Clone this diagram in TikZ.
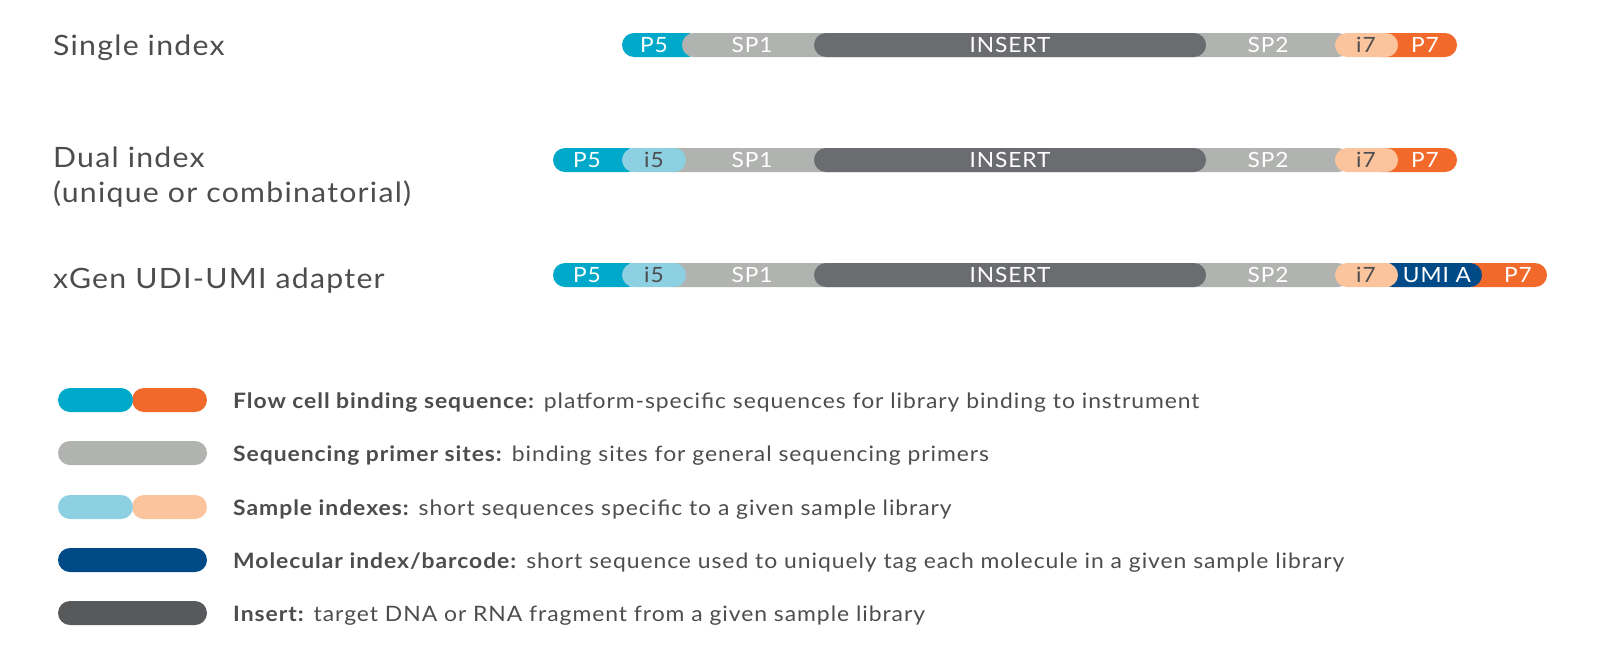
\documentclass[tikz,border=0pt]{standalone}
\usepackage{fontspec}
\setmainfont{Lato}[FakeStretch=1.08, LetterSpace=4.5]
\definecolor{cP5}{HTML}{00A9C9}
\definecolor{cP7}{HTML}{F26A2B}
\definecolor{ci5}{HTML}{8DD0E1}
\definecolor{ci7}{HTML}{FBC49C}
\definecolor{cSP}{HTML}{B1B3B0}
\definecolor{cIns}{HTML}{6B6C70}
\definecolor{cInsL}{HTML}{58595B}
\definecolor{cUMI}{HTML}{004B87}
\definecolor{cTxt}{HTML}{4D4D4F}
\tikzset{
  seg/.style={rounded corners=12pt},
  lab/.style={font=\fontsize{21}{24}\selectfont, text=white, inner sep=0pt, anchor=center},
  dlab/.style={lab, text=cTxt},
  ttl/.style={font=\fontsize{28}{34}\selectfont, text=cTxt, inner sep=0pt, anchor=base west},
  leg/.style={font=\fontsize{21.2}{24}\selectfont, text=cTxt, inner sep=0pt, anchor=base west},
}
\newcommand\seqbar[4]{\fill[#1,seg] (#2,{#4-12}) rectangle (#3,{#4+12});}
\begin{document}
\begin{tikzpicture}[x=1pt,y=-1pt]
\useasboundingbox (0,0) rectangle (1600,670);
\fill[white] (0,0) rectangle (1600,670);
% titles
\node[ttl] (t1) at (53,55) {Single index};
\node[ttl] (t2) at (53,167) {Dual index};
\node[ttl] (t2b) at (53,202) {(unique or combinatorial)};
\node[ttl] (t3) at (53,288) {xGen UDI-UMI adapter};
% row 1
\seqbar{cP5}{622}{700}{45}
\seqbar{cP7}{1370}{1457}{45}
\seqbar{cSP}{682}{1350}{45}
\seqbar{cIns}{814}{1206}{45}
\seqbar{ci7}{1335}{1398}{45}
\node[lab] (r1p5) at (654,45) {P5};
\node[lab] (r1sp1) at (752,45) {SP1};
\node[lab] (r1ins) at (1010,45) {INSERT};
\node[lab] (r1sp2) at (1268,45) {SP2};
\node[dlab] (r1i7) at (1366,45) {i7};
\node[lab] (r1p7) at (1425,45) {P7};
% row 2
\seqbar{cP5}{553}{640}{160}
\seqbar{cP7}{1370}{1457}{160}
\seqbar{cSP}{660}{1350}{160}
\seqbar{cIns}{814}{1206}{160}
\seqbar{ci5}{622}{686}{160}
\seqbar{ci7}{1335}{1398}{160}
\node[lab] (r2p5) at (587,160) {P5};
\node[dlab] (r2i5) at (654,160) {i5};
\node[lab] (r2sp1) at (752,160) {SP1};
\node[lab] (r2ins) at (1010,160) {INSERT};
\node[lab] (r2sp2) at (1268,160) {SP2};
\node[dlab] (r2i7) at (1366,160) {i7};
\node[lab] (r2p7) at (1425,160) {P7};
% row 3
\seqbar{cP5}{553}{640}{275}
\seqbar{cP7}{1460}{1547}{275}
\seqbar{cUMI}{1380}{1482}{275}
\seqbar{cSP}{660}{1350}{275}
\seqbar{cIns}{814}{1206}{275}
\seqbar{ci5}{622}{686}{275}
\seqbar{ci7}{1335}{1398}{275}
\node[lab] (r3p5) at (587,275) {P5};
\node[dlab] (r3i5) at (654,275) {i5};
\node[lab] (r3sp1) at (752,275) {SP1};
\node[lab] (r3ins) at (1010,275) {INSERT};
\node[lab] (r3sp2) at (1268,275) {SP2};
\node[dlab] (r3i7) at (1366,275) {i7};
\node[lab] (r3umi) at (1437,275) {UMI A};
\node[lab] (r3p7) at (1518,275) {P7};
% legend
\seqbar{cP7}{132}{207}{400}
\seqbar{cP5}{58}{133}{400}
\seqbar{cSP}{58}{207}{453}
\seqbar{ci7}{132}{207}{507}
\seqbar{ci5}{58}{133}{507}
\seqbar{cUMI}{58}{207}{560}
\seqbar{cInsL}{58}{207}{613}
\node[leg] (l1) at (233,408) {\textbf{Flow cell binding sequence:} platform-specific sequences for library binding to instrument};
\node[leg] (l2) at (233,461) {\textbf{Sequencing primer sites:} binding sites for general sequencing primers};
\node[leg] (l3) at (233,515) {\textbf{Sample indexes:} short sequences specific to a given sample library};
\node[leg] (l4) at (233,568) {\textbf{Molecular index/barcode:} short sequence used to uniquely tag each molecule in a given sample library};
\node[leg] (l5) at (233,621) {\textbf{Insert:} target DNA or RNA fragment from a given sample library};
\end{tikzpicture}
\end{document}
